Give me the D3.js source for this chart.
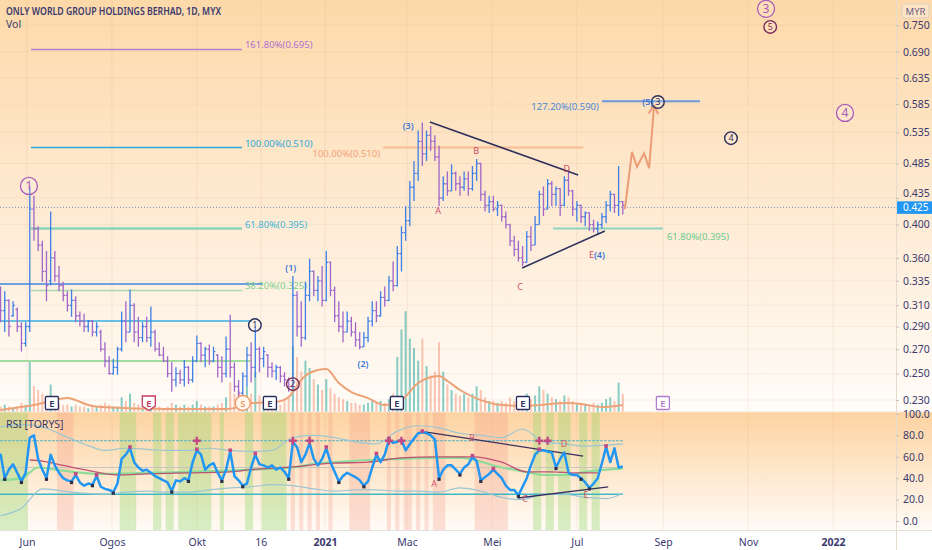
<!DOCTYPE html>
<html>
<head>
<meta charset="utf-8">
<script src="https://cdn.jsdelivr.net/npm/d3@7"></script>
<style>
  body { margin: 0; background: #fff; }
  svg { display: block; }
</style>
</head>
<body>
<div id="chart"></div>
<script>
// ---- data ----
const firstBar = new Date(Date.UTC(2020, 4, 13));
const barStepDays = 3;

// [open, high, low, close] in MYR
const priceBars = [
  [0.320,0.329,0.294,0.305],[0.305,0.324,0.285,0.315],[0.315,0.316,0.281,0.290],[0.300,0.314,0.299,0.310],
  [0.306,0.308,0.285,0.290],[0.290,0.294,0.268,0.275],[0.275,0.294,0.272,0.290],[0.290,0.452,0.285,0.420],
  [0.420,0.438,0.380,0.395],[0.395,0.398,0.368,0.375],[0.375,0.380,0.334,0.345],[0.345,0.368,0.314,0.330],
  [0.335,0.417,0.330,0.360],[0.360,0.368,0.334,0.340],[0.340,0.351,0.324,0.330],[0.330,0.334,0.314,0.320],
  [0.320,0.324,0.304,0.310],[0.310,0.326,0.299,0.315],[0.315,0.319,0.294,0.300],[0.300,0.304,0.290,0.295],
  [0.295,0.302,0.285,0.290],[0.290,0.296,0.285,0.295],[0.295,0.296,0.281,0.285],[0.285,0.294,0.281,0.290],
  [0.285,0.287,0.268,0.270],[0.270,0.276,0.255,0.260],[0.260,0.264,0.249,0.250],[0.250,0.262,0.249,0.255],
  [0.255,0.272,0.249,0.270],[0.270,0.304,0.268,0.295],[0.295,0.314,0.276,0.285],[0.285,0.326,0.285,0.310],
  [0.310,0.312,0.276,0.285],[0.285,0.299,0.272,0.280],[0.280,0.294,0.276,0.290],[0.290,0.299,0.276,0.280],
  [0.280,0.309,0.272,0.285],[0.285,0.287,0.268,0.270],[0.270,0.276,0.264,0.265],[0.265,0.272,0.259,0.260],
  [0.260,0.264,0.247,0.250],[0.250,0.259,0.236,0.245],[0.245,0.255,0.240,0.250],[0.250,0.253,0.242,0.245],
  [0.245,0.261,0.240,0.255],[0.255,0.256,0.242,0.245],[0.245,0.264,0.243,0.260],[0.260,0.282,0.259,0.275],
  [0.275,0.276,0.259,0.265],[0.265,0.272,0.255,0.270],[0.270,0.274,0.257,0.260],[0.260,0.272,0.259,0.268],
  [0.265,0.266,0.247,0.255],[0.255,0.264,0.243,0.250],[0.250,0.281,0.247,0.270],[0.270,0.301,0.247,0.255],
  [0.255,0.259,0.236,0.240],[0.240,0.245,0.232,0.235],[0.235,0.251,0.230,0.248],[0.248,0.272,0.240,0.265],
  [0.265,0.276,0.243,0.255],[0.255,0.290,0.247,0.270],[0.270,0.272,0.251,0.262],[0.262,0.272,0.255,0.268],
  [0.265,0.266,0.247,0.255],[0.255,0.259,0.247,0.252],[0.252,0.257,0.245,0.255],[0.255,0.256,0.243,0.248],
  [0.248,0.251,0.240,0.245],[0.245,0.247,0.236,0.240],[0.240,0.340,0.237,0.320],[0.320,0.324,0.281,0.290],
  [0.290,0.314,0.272,0.280],[0.280,0.334,0.278,0.320],[0.320,0.359,0.314,0.345],[0.345,0.346,0.319,0.325],
  [0.325,0.340,0.314,0.335],[0.335,0.351,0.309,0.315],[0.315,0.368,0.314,0.355],[0.355,0.356,0.319,0.325],
  [0.325,0.329,0.294,0.300],[0.300,0.314,0.285,0.290],[0.290,0.304,0.276,0.285],[0.285,0.304,0.285,0.295],
  [0.295,0.299,0.281,0.285],[0.285,0.294,0.272,0.278],[0.278,0.285,0.270,0.272],[0.272,0.285,0.272,0.280],
  [0.280,0.299,0.276,0.295],[0.295,0.314,0.290,0.305],[0.305,0.314,0.294,0.300],[0.300,0.324,0.299,0.318],
  [0.318,0.329,0.309,0.315],[0.315,0.340,0.314,0.335],[0.335,0.356,0.324,0.330],[0.330,0.374,0.329,0.365],
  [0.365,0.398,0.345,0.390],[0.390,0.424,0.380,0.405],[0.405,0.459,0.398,0.450],[0.450,0.489,0.431,0.470],
  [0.470,0.538,0.459,0.520],[0.520,0.552,0.481,0.500],[0.500,0.538,0.489,0.530],[0.530,0.546,0.505,0.520],
  [0.520,0.530,0.489,0.495],[0.495,0.513,0.424,0.435],[0.435,0.466,0.431,0.455],[0.455,0.473,0.438,0.445],
  [0.445,0.484,0.445,0.470],[0.470,0.473,0.445,0.455],[0.455,0.466,0.438,0.450],[0.450,0.473,0.445,0.462],
  [0.462,0.473,0.438,0.448],[0.448,0.481,0.445,0.470],[0.470,0.492,0.459,0.485],[0.485,0.486,0.431,0.440],
  [0.440,0.445,0.417,0.425],[0.425,0.438,0.415,0.430],[0.430,0.438,0.417,0.420],[0.420,0.431,0.411,0.425],
  [0.425,0.426,0.404,0.410],[0.410,0.417,0.395,0.400],[0.400,0.401,0.374,0.380],[0.380,0.386,0.362,0.370],
  [0.370,0.380,0.356,0.360],[0.360,0.374,0.351,0.355],[0.355,0.392,0.355,0.385],[0.385,0.398,0.368,0.375],
  [0.375,0.411,0.375,0.400],[0.400,0.445,0.400,0.440],[0.440,0.451,0.411,0.420],[0.420,0.462,0.420,0.455],
  [0.455,0.459,0.424,0.440],[0.440,0.451,0.424,0.448],[0.448,0.449,0.411,0.425],[0.425,0.466,0.424,0.460],
  [0.460,0.476,0.438,0.445],[0.445,0.446,0.411,0.420],[0.420,0.431,0.404,0.425],[0.425,0.426,0.402,0.410],
  [0.410,0.417,0.398,0.415],[0.415,0.416,0.392,0.400],[0.400,0.406,0.390,0.395],[0.395,0.404,0.387,0.400],
  [0.400,0.415,0.395,0.410],[0.410,0.431,0.402,0.425],[0.425,0.445,0.417,0.440],[0.440,0.441,0.415,0.425],
  [0.425,0.481,0.411,0.430],[0.430,0.431,0.413,0.425]
];

// volume, millions of shares (rough)
const volumes = [
  3,4,3,2,3,5,4, 28, 14,12,10,8,15,
  6,5,4,4,3,4,3,3,2,3,3,4,
  5,4,3,3,8,6,10,5,4,3,3,5,
  3,3,2,3,5,4,3,4,3,4,6,4,3,3,
  3,4,5,8,16,10,12,8,
  14,10,22,9,7,5,4,5,4,6,8,
  36, 30,22,28,24,18,15,12,18,13,
  10,8,7,6,5,5,4,4,5,6,5,6,5,7,10,
  30,45,55,40,35,28,40,25,20,22,
  38,22,15,12,10,9,10,8,10,14,12,
  8,6,6,5,6,5,8,6,5,6,10,7,9,
  14,12,10,8,7,6,9,8,
  6,5,5,4,4,5,4,5,7,8,6,16,10
];
// volume moving average, [bar, value]
const volumeMA = [[0,1.1],[5,2.7],[8,3.8],[12,6],[16,7.6],[18,6.5],[21,3.8],[24,2.7],[40,1.6],[54,1.6],
  [56,2.2],[60,4.9],[66,5.5],[69,8.2],[72,17.5],[74,21.3],[78,23.5],[81,15.8],[84,10.9],[88,7.6],[92,3.8],
  [96,6.5],[100,15.8],[105,19.6],[107,16.9],[110,12],[115,6.5],[120,3.8],[125,3.3],[136,4.9],[139,4.4],
  [144,2.7],[149,3.8]];

const rsiValues = [
  63,40,48,53,45,37,45,78,80,58, 48,40,62,52,45,40,38,37,43,36,
  33,35,34,42,32,30,29,27,35,58, 62,68,55,50,47,48,45,42,40,38,
  36,28,38,37,40,38,55,66,62,48, 52,54,45,38,48,65,42,38,33,35,
  50,62,53,52,50,52,48,50,46,40, 74,69,55,62,73,58,52,58,68,55,
  46,37,42,45,43,41,38,33,37,50, 62,55,62,76,73,74,76,66,72,77,
  82,83,82,80,76,40,48,52,52,48, 44,50,53,60,56,38,41,44,48,44,
  40,33,29,29,24,32,40,52,62,66, 66,65,64,50,58,64,45,43,43,40,
  36,31,35,40,54,69,55,68,50,51
];
const rsiUpperBand = [[0,88],[5,90],[10,88],[15,80],[20,72],[25,66],[30,68],[35,67],[40,66],[45,66],[50,68],
  [55,66],[60,65],[65,66],[70,78],[75,80],[80,78],[85,74],[90,72],[95,84],[100,89],[105,87],[110,82],[115,80],
  [120,78],[125,86],[130,74],[135,72],[140,70],[145,71],[149,72]];
const rsiLowerBand = [[0,5],[5,12],[10,30],[15,28],[20,26],[25,25],[30,27],[35,28],[40,27],[45,27],[50,29],
  [55,31],[60,32],[65,34],[70,33],[75,30],[80,28],[85,29],[90,29],[95,28],[100,28],[105,27],[110,31],[115,28],
  [120,22],[125,20],[130,25],[135,25],[140,22],[145,21],[149,26]];
const rsiSignal = [[7,57],[10,56],[15,52],[20,48],[28,43],[35,44],[45,45],[55,46],[60,48],[68,50],[80,54],
  [88,55],[96,59],[104,60],[113,60],[120,55],[126,46],[132,46],[138,45],[143,45]];
const rsiSmooth = [[0,38],[5,40],[9,50],[15,47],[24,44],[35,45],[45,46],[55,47],[65,49],[70,50],[76,54],
  [80,55],[88,57],[96,58],[104,59],[110,59],[120,50],[127,45],[130,43],[136,43],[140,46],[145,48],[149,49]];
const rsiLowMarks = [1,5,11,17,22,27,41,45,53,58,69,81,87,105,110,115,124,133,139,141];
const rsiHighMarks = [18,23,31,47,55,61,78,90,93,101,113,118,129,145];
const rsiCrossMarks = [47,70,74,93,96,129,131];
const rsiGreenZones = [[0,6],[29,31],[32,32],[37,38],[40,41],[43,50],[53,53],[59,60],[63,68],
  [128,129],[131,132],[134,136],[139,140],[142,143]];
const rsiPinkZones = [[14,17],[70,70],[72,72],[74,74],[76,76],[79,79],[84,88],[93,93],[95,95],
  [97,98],[100,100],[102,102],[104,106],[114,121]];

const priceTicks = [0.750,0.690,0.635,0.585,0.535,0.485,0.435,0.400,0.360,0.335,0.310,0.290,0.270,0.250,0.230];
const rsiTicks = [100,80,60,40,20,0];
const timeTickDates = ['2020-06-01','2020-08-01','2020-10-01','2020-11-16','2021-01-01','2021-03-01',
  '2021-05-01','2021-07-01','2021-09-01','2021-11-01','2022-01-01'];
const timeTickLabels = ['Jun','Ogos','Okt','16','2021','Mac','Mei','Jul','Sep','Nov','2022'];
const lastPrice = 0.425;

// drawings (bar index, price)
const leftFibLevels = [0.695, 0.510, 0.395, 0.325];
const leftFibLabels = ['161.80%(0.695)','100.00%(0.510)','61.80%(0.395)','38.20%(0.325)'];
const leftFibSpan = [7.3, 57.8];
const oldLevels = [0.3317, 0.2951, 0.2602];
const oldLevelEnds = [62.7, 60.2, 59.8];
const rightFibs = [
  {price: 0.510, from: 91.6, to: 139.5, label: '100.00%(0.510)'},
  {price: 0.590, from: 144.0, to: 167.5, label: '127.20%(0.590)'},
  {price: 0.395, from: 132.3, to: 158.6, label: '61.80%(0.395)'}
];
const triangleLines = [[[102.8,0.5529],[138.3,0.4677]], [[124.9,0.3488],[144.7,0.3920]]];
const forecastPath = [[149.5,0.420],[151.2,0.503],[152.4,0.480],[154.1,0.501],[155.3,0.478],[156.5,0.583]];
const waveCircles = [
  {i: 6.8, price: 0.4518, text: '1', kind: 'major'},
  {i: 183.3, price: 0.790, text: '3', kind: 'major'},
  {i: 202.2, price: 0.5688, text: '4', kind: 'major'},
  {i: 184.3, price: 0.7462, text: '5', kind: 'minorRed'},
  {i: 174.9, price: 0.5254, text: '4', kind: 'minor'},
  {i: 157.4, price: 0.5888, text: '3', kind: 'minor'},
  {i: 60.9, price: 0.2913, text: '1', kind: 'minor'},
  {i: 70.0, price: 0.2418, text: '2', kind: 'minorRed'}
];
const waveTexts = [
  {i: 69.5, price: 0.3488, text: '(1)', kind: 'blue'},
  {i: 86.8, price: 0.2577, text: '(2)', kind: 'blue'},
  {i: 97.6, price: 0.5460, text: '(3)', kind: 'blue'},
  {i: 155.0, price: 0.5888, text: '(5)', kind: 'blue'},
  {i: 104.8, price: 0.4175, text: 'A', kind: 'red'},
  {i: 113.9, price: 0.5046, text: 'B', kind: 'red'},
  {i: 124.4, price: 0.3286, text: 'C', kind: 'red'},
  {i: 135.6, price: 0.4768, text: 'D', kind: 'red'}
];
const e4Label = {i: 142.8, price: 0.3634};
const rsiTriangle = [[[101.6,83.2],[139.5,60.7]], [[123.9,21.5],[145.5,31.8]]];
const rsiWaveTexts = [
  {i: 103.8, v: 34.6, text: 'A'}, {i: 112.9, v: 77.6, text: 'B'}, {i: 125.6, v: 20.6, text: 'C'},
  {i: 134.9, v: 72, text: 'D'}, {i: 140.2, v: 24.3, text: 'E'}
];
const events = [
  {i: 12.3, type: 'E'}, {i: 35.5, type: 'Ered'}, {i: 58.0, type: 'S'}, {i: 64.5, type: 'E'},
  {i: 94.9, type: 'E'}, {i: 125.1, type: 'E'}, {i: 158.6, type: 'Efuture'}
];

// ---- layout ----
const W = 932, H = 550;
const plotRight = 896;
const paneBottom = 412, rsiBottom = 530;
const navy = '#3a3a6e';
const upColor = '#3f7fe6', downColor = '#a066c8';

const x = d3.scaleTime()
  .domain([new Date(Date.UTC(2020, 5, 1)), new Date(Date.UTC(2022, 0, 1))])
  .range([27, 833]);
const bx = i => x(new Date(firstBar.getTime() + i * barStepDays * 864e5));
const y = d3.scaleLog().domain([0.23, 0.75]).range([400, 25.3]);
const yVol = d3.scaleLinear().domain([0, 60]).range([paneBottom, 302]);
const yRsi = d3.scaleLinear().domain([0, 100]).range([521, 414]);

const svg = d3.select('#chart').append('svg')
  .attr('width', W).attr('height', H)
  .style('font-family', '"Noto Sans", "DejaVu Sans", sans-serif');

const defs = svg.append('defs');
const gradP = defs.append('linearGradient').attr('id', 'bgPrice')
  .attr('gradientUnits', 'userSpaceOnUse').attr('x1', 0).attr('y1', 0).attr('x2', 0).attr('y2', paneBottom);
gradP.append('stop').attr('offset', 0).attr('stop-color', '#fdd9a9');
gradP.append('stop').attr('offset', 0.5).attr('stop-color', '#feead2');
gradP.append('stop').attr('offset', 1).attr('stop-color', '#fffcf8');
const gradR = defs.append('linearGradient').attr('id', 'bgRsi')
  .attr('gradientUnits', 'userSpaceOnUse').attr('x1', 0).attr('y1', paneBottom).attr('x2', 0).attr('y2', rsiBottom);
gradR.append('stop').attr('offset', 0).attr('stop-color', '#fdd3a0');
gradR.append('stop').attr('offset', 1).attr('stop-color', '#fffbf7');
defs.append('clipPath').attr('id', 'clipPrice').append('rect')
  .attr('x', 0).attr('y', 0).attr('width', plotRight).attr('height', paneBottom);
defs.append('clipPath').attr('id', 'clipRsi').append('rect')
  .attr('x', 0).attr('y', paneBottom).attr('width', plotRight).attr('height', rsiBottom - paneBottom);

svg.append('rect').attr('width', W).attr('height', H).attr('fill', '#fff');
svg.append('rect').attr('width', W).attr('height', paneBottom).attr('fill', 'url(#bgPrice)');
svg.append('rect').attr('y', paneBottom).attr('width', W).attr('height', rsiBottom - paneBottom).attr('fill', 'url(#bgRsi)');

// faint grid
const tickDates = timeTickDates.map(s => new Date(s + 'T00:00:00Z'));
svg.append('g').selectAll('line').data(tickDates).join('line')
  .attr('x1', d => x(d)).attr('x2', d => x(d)).attr('y1', 0).attr('y2', rsiBottom)
  .attr('stroke', 'rgba(190,150,110,0.13)');
svg.append('g').selectAll('line').data(priceTicks).join('line')
  .attr('x1', 0).attr('x2', plotRight).attr('y1', d => y(d)).attr('y2', d => y(d))
  .attr('stroke', 'rgba(190,150,110,0.10)');

// ---- price pane ----
const pg = svg.append('g').attr('clip-path', 'url(#clipPrice)');

pg.append('g').selectAll('rect').data(volumes).join('rect')
  .attr('x', (d, i) => bx(i) - 1)
  .attr('y', d => yVol(d))
  .attr('width', 2)
  .attr('height', d => paneBottom - yVol(d))
  .attr('fill', (d, i) => priceBars[i][3] >= priceBars[i][0] ? 'rgba(38,166,154,0.55)' : 'rgba(242,130,95,0.45)');

pg.append('path').datum(volumeMA)
  .attr('d', d3.line().x(d => bx(d[0])).y(d => yVol(d[1])).curve(d3.curveMonotoneX))
  .attr('fill', 'none').attr('stroke', '#eea277').attr('stroke-width', 2);

// old support lines
const oldColors = ['#3f86e0', '#35aee0', '#a4dca0'];
pg.append('g').selectAll('line').data(oldLevels).join('line')
  .attr('x1', 0).attr('x2', (d, i) => bx(oldLevelEnds[i]))
  .attr('y1', d => y(d)).attr('y2', d => y(d))
  .attr('stroke', (d, i) => oldColors[i]).attr('stroke-width', (d, i) => i === 2 ? 2 : 1.5);

// left fib
const fibLineColors = ['#b77fd3', '#2aa8df', '#8ad4bb', '#a6dcaa'];
const fibTextColors = ['#b06fcf', '#2aa8df', '#3cb4d8', '#7fd08c'];
leftFibLevels.forEach((p, k) => {
  pg.append('line')
    .attr('x1', bx(leftFibSpan[0])).attr('x2', bx(leftFibSpan[1]))
    .attr('y1', y(p)).attr('y2', y(p))
    .attr('stroke', fibLineColors[k]).attr('stroke-width', k === 2 ? 2.5 : 1.5);
  pg.append('text')
    .attr('x', bx(leftFibSpan[1]) + 3).attr('y', y(p) - 1)
    .attr('font-size', 9.5).attr('fill', fibTextColors[k])
    .text(leftFibLabels[k]);
});

// right fibs
const rfLine = ['#f8bb92', '#6a98dc', '#8ad4bb'];
const rfText = ['#f2a277', '#4a88d8', '#6ccb8e'];
rightFibs.forEach((f, k) => {
  pg.append('line')
    .attr('x1', bx(f.from)).attr('x2', bx(f.to))
    .attr('y1', y(f.price)).attr('y2', y(f.price))
    .attr('stroke', rfLine[k]).attr('stroke-width', 2);
  const t = pg.append('text').attr('font-size', 9.5).attr('fill', rfText[k]).text(f.label);
  if (k === 2) {
    t.attr('x', bx(f.to) + 4).attr('y', y(f.price) + 11);
  } else {
    t.attr('x', bx(f.from) - 3).attr('y', y(f.price) + 9).attr('text-anchor', 'end');
  }
});

// last price dotted line
const tagY = y(lastPrice) + 2;
pg.append('line')
  .attr('x1', 0).attr('x2', plotRight).attr('y1', tagY).attr('y2', tagY)
  .attr('stroke', '#7f93b8').attr('stroke-dasharray', '1,2');

// OHLC bars
pg.append('g').selectAll('path').data(priceBars).join('path')
  .attr('d', (d, i) => {
    const cx = bx(i);
    return `M${cx},${y(d[1])}V${y(d[2])}M${cx - 1.8},${y(d[0])}H${cx}M${cx},${y(d[3])}H${cx + 1.8}`;
  })
  .attr('fill', 'none')
  .attr('stroke', d => d[3] >= d[0] ? upColor : downColor)
  .attr('stroke-width', 1.3);

// triangle
pg.append('g').selectAll('line').data(triangleLines).join('line')
  .attr('x1', d => bx(d[0][0])).attr('y1', d => y(d[0][1]))
  .attr('x2', d => bx(d[1][0])).attr('y2', d => y(d[1][1]))
  .attr('stroke', '#2e2f5e').attr('stroke-width', 1.5);

// forecast path with arrow head
const fpx = forecastPath.map(d => [bx(d[0]), y(d[1])]);
pg.append('path').attr('d', d3.line()(fpx))
  .attr('fill', 'none').attr('stroke', '#ec9d78').attr('stroke-width', 2);
const tip = fpx[fpx.length - 1], prev = fpx[fpx.length - 2];
const ang = Math.atan2(tip[1] - prev[1], tip[0] - prev[0]);
[-0.5, 0.5].forEach(da => {
  pg.append('line')
    .attr('x1', tip[0]).attr('y1', tip[1])
    .attr('x2', tip[0] - 10 * Math.cos(ang + da)).attr('y2', tip[1] - 10 * Math.sin(ang + da))
    .attr('stroke', '#ec9d78').attr('stroke-width', 2);
});

// wave circles
waveCircles.forEach(c => {
  const cx = bx(c.i), cy = y(c.price);
  const major = c.kind === 'major';
  const col = major ? '#a85cbb' : (c.kind === 'minorRed' ? '#7a2a5a' : '#2b2d5c');
  pg.append('circle').attr('cx', cx).attr('cy', cy).attr('r', major ? 8.5 : 6.3)
    .attr('fill', 'rgba(255,255,255,0.15)').attr('stroke', col).attr('stroke-width', major ? 1.3 : 1.4);
  pg.append('text').attr('x', cx).attr('y', cy + (major ? 4.5 : 3.3))
    .attr('text-anchor', 'middle').attr('font-size', major ? 12 : 9)
    .attr('fill', major ? '#a85cbb' : (c.kind === 'minorRed' ? '#8b2a55' : '#2b2d5c'))
    .text(c.text);
});

waveTexts.forEach(t => {
  pg.append('text').attr('x', bx(t.i)).attr('y', y(t.price) + 3)
    .attr('text-anchor', 'middle').attr('font-size', 9).attr('font-weight', t.kind === 'blue' ? 600 : 400)
    .attr('fill', t.kind === 'blue' ? '#3c78d8' : '#cf4d68')
    .text(t.text);
});
const e4 = pg.append('text').attr('x', bx(e4Label.i)).attr('y', y(e4Label.price) + 3)
  .attr('text-anchor', 'middle').attr('font-size', 9);
e4.append('tspan').attr('fill', '#cf4d68').text('E');
e4.append('tspan').attr('fill', '#3c78d8').attr('font-weight', 600).text('(4)');

// event markers
const evY = paneBottom - 9;
events.forEach(ev => {
  const cx = bx(ev.i);
  let col = '#2b2d5c';
  if (ev.type === 'S') {
    col = '#f09a68';
    pg.append('circle').attr('cx', cx).attr('cy', evY).attr('r', 7.5)
      .attr('fill', '#fff6ee').attr('stroke', col).attr('stroke-width', 1.3);
  } else if (ev.type === 'Ered') {
    col = '#c23a5c';
    pg.append('path').attr('transform', `translate(${cx},${evY})`)
      .attr('d', 'M-6.5,-7H6.5V3L0,7.5L-6.5,3Z')
      .attr('fill', '#fff').attr('stroke', col).attr('stroke-width', 1.3);
  } else {
    if (ev.type === 'Efuture') col = '#b07ccb';
    pg.append('rect').attr('x', cx - 6.5).attr('y', evY - 6.5).attr('width', 13).attr('height', 13)
      .attr('rx', 1).attr('fill', '#fff').attr('stroke', col).attr('stroke-width', 1.3);
  }
  pg.append('text').attr('x', cx).attr('y', evY + 3.5).attr('text-anchor', 'middle')
    .attr('font-size', 9.5).attr('font-weight', 600).attr('fill', col)
    .text(ev.type === 'S' ? 'S' : 'E');
});

// ---- RSI pane ----
const rg = svg.append('g').attr('clip-path', 'url(#clipRsi)');
rg.append('g').selectAll('rect').data(rsiGreenZones).join('rect')
  .attr('x', d => bx(d[0]) - 2).attr('width', d => bx(d[1]) - bx(d[0]) + 4)
  .attr('y', paneBottom).attr('height', rsiBottom - paneBottom)
  .attr('fill', 'rgba(150,215,110,0.38)');
rg.append('g').selectAll('rect').data(rsiPinkZones).join('rect')
  .attr('x', d => bx(d[0]) - 2).attr('width', d => bx(d[1]) - bx(d[0]) + 4)
  .attr('y', paneBottom).attr('height', rsiBottom - paneBottom)
  .attr('fill', 'rgba(246,160,140,0.3)');

rg.append('line').attr('x1', 0).attr('x2', bx(149)).attr('y1', yRsi(50)).attr('y2', yRsi(50))
  .attr('stroke', '#c9c4c0').attr('stroke-width', 1);
rg.append('line').attr('x1', 0).attr('x2', bx(149)).attr('y1', yRsi(75)).attr('y2', yRsi(75))
  .attr('stroke', '#55b3c9').attr('stroke-width', 1).attr('stroke-dasharray', '3,1');
rg.append('line').attr('x1', 0).attr('x2', bx(149)).attr('y1', yRsi(25)).attr('y2', yRsi(25))
  .attr('stroke', '#3db8c4').attr('stroke-width', 1.3);

const smooth = d3.line().x(d => bx(d[0])).y(d => yRsi(d[1])).curve(d3.curveMonotoneX);
[rsiUpperBand, rsiLowerBand].forEach(b => {
  rg.append('path').datum(b).attr('d', smooth)
    .attr('fill', 'none').attr('stroke', '#9cc6d2').attr('stroke-width', 1.2);
});
rg.append('path').datum(rsiSmooth).attr('d', smooth)
  .attr('fill', 'none').attr('stroke', '#8fdc9a').attr('stroke-width', 2.2);
rg.append('path').datum(rsiSignal).attr('d', smooth)
  .attr('fill', 'none').attr('stroke', '#b83a6a').attr('stroke-width', 1.3).attr('opacity', 0.85);

rg.append('g').selectAll('line').data(rsiTriangle).join('line')
  .attr('x1', d => bx(d[0][0])).attr('y1', d => yRsi(d[0][1]))
  .attr('x2', d => bx(d[1][0])).attr('y2', d => yRsi(d[1][1]))
  .attr('stroke', '#3a2f5e').attr('stroke-width', 1.3);

rg.append('path').datum(rsiValues)
  .attr('d', d3.line().x((d, i) => bx(i)).y(d => yRsi(d)))
  .attr('fill', 'none').attr('stroke', '#2196f3').attr('stroke-width', 2.5).attr('stroke-linejoin', 'round');

rg.append('g').selectAll('rect').data(rsiLowMarks).join('rect')
  .attr('x', i => bx(i) - 1.6).attr('y', i => yRsi(rsiValues[i]) - 0.5).attr('width', 3.2).attr('height', 3.2)
  .attr('fill', '#2e3048');
rg.append('g').selectAll('rect').data(rsiHighMarks).join('rect')
  .attr('x', i => bx(i) - 1.8).attr('y', i => yRsi(rsiValues[i]) - 3).attr('width', 3.6).attr('height', 3.6)
  .attr('fill', '#c24a82');
rg.append('g').selectAll('path').data(rsiCrossMarks).join('path')
  .attr('d', i => { const cx = bx(i), cy = yRsi(75); return `M${cx - 4},${cy}H${cx + 4}M${cx},${cy - 4}V${cy + 4}`; })
  .attr('stroke', '#c24a82').attr('stroke-width', 2.4);

rsiWaveTexts.forEach(t => {
  rg.append('text').attr('x', bx(t.i)).attr('y', yRsi(t.v) + 3).attr('text-anchor', 'middle')
    .attr('font-size', 9).attr('fill', '#d05a70').text(t.text);
});

// ---- axes ----
svg.append('line').attr('x1', plotRight + 0.5).attr('x2', plotRight + 0.5).attr('y1', 0).attr('y2', H)
  .attr('stroke', '#e6dbcf');
svg.append('line').attr('x1', 0).attr('x2', W).attr('y1', paneBottom).attr('y2', paneBottom)
  .attr('stroke', '#f3e6d6');
svg.append('line').attr('x1', 0).attr('x2', W).attr('y1', rsiBottom + 0.5).attr('y2', rsiBottom + 0.5)
  .attr('stroke', '#e4e0dc');

const priceAxis = svg.append('g').attr('transform', `translate(${plotRight},0)`)
  .call(d3.axisRight(y).tickValues(priceTicks).tickFormat(d3.format('.3f')).tickSize(3).tickPadding(4));
const rsiAxis = svg.append('g').attr('transform', `translate(${plotRight},0)`)
  .call(d3.axisRight(yRsi).tickValues(rsiTicks).tickFormat(d3.format('.1f')).tickSize(3).tickPadding(4));
[priceAxis, rsiAxis].forEach(a => {
  a.select('.domain').remove();
  a.selectAll('line').attr('stroke', '#c8bfb6');
  a.selectAll('text').attr('fill', navy).attr('font-size', 10.5)
    .attr('font-family', '"Noto Sans", "DejaVu Sans", sans-serif');
});
// keep the 0.435 label clear of the price tag
priceAxis.selectAll('.tick').filter(d => d === 0.435).select('text').attr('dy', '-0.12em');

const timeAxis = svg.append('g').attr('transform', `translate(0,${rsiBottom})`)
  .call(d3.axisBottom(x).tickValues(tickDates).tickFormat((d, i) => timeTickLabels[i]).tickSize(0).tickPadding(9));
timeAxis.select('.domain').remove();
timeAxis.selectAll('text').attr('fill', navy).attr('font-size', 10.5)
  .attr('font-family', '"Noto Sans", "DejaVu Sans", sans-serif')
  .attr('font-weight', (d, i) => /^\d{4}$/.test(timeTickLabels[i]) ? 700 : 400);

// last price tag
svg.append('rect').attr('x', plotRight + 1).attr('y', tagY - 6).attr('width', W - plotRight - 1).attr('height', 12.5)
  .attr('fill', '#2196f3');
svg.append('text').attr('x', plotRight + 7).attr('y', tagY + 3.8).attr('font-size', 10)
  .attr('fill', '#fff').text(d3.format('.3f')(lastPrice));

// currency box
svg.append('rect').attr('x', 902).attr('y', 4).attr('width', 27).attr('height', 14).attr('rx', 3)
  .attr('fill', 'rgba(255,255,255,0.3)').attr('stroke', '#dccfc4');
svg.append('text').attr('x', 915.5).attr('y', 14.5).attr('text-anchor', 'middle')
  .attr('font-size', 9.5).attr('fill', '#6a5a8a').text('MYR');

// titles
svg.append('text').attr('x', 6).attr('y', 15).attr('font-size', 10.5).attr('font-weight', 600)
  .attr('fill', navy).attr('textLength', 215).attr('lengthAdjust', 'spacingAndGlyphs')
  .text('ONLY WORLD GROUP HOLDINGS BERHAD, 1D, MYX');
svg.append('text').attr('x', 6).attr('y', 28).attr('font-size', 10.5).attr('fill', navy).text('Vol');
svg.append('text').attr('x', 6).attr('y', 428).attr('font-size', 10.5).attr('fill', navy).text('RSI [TORYS]');
</script>
</body>
</html>
